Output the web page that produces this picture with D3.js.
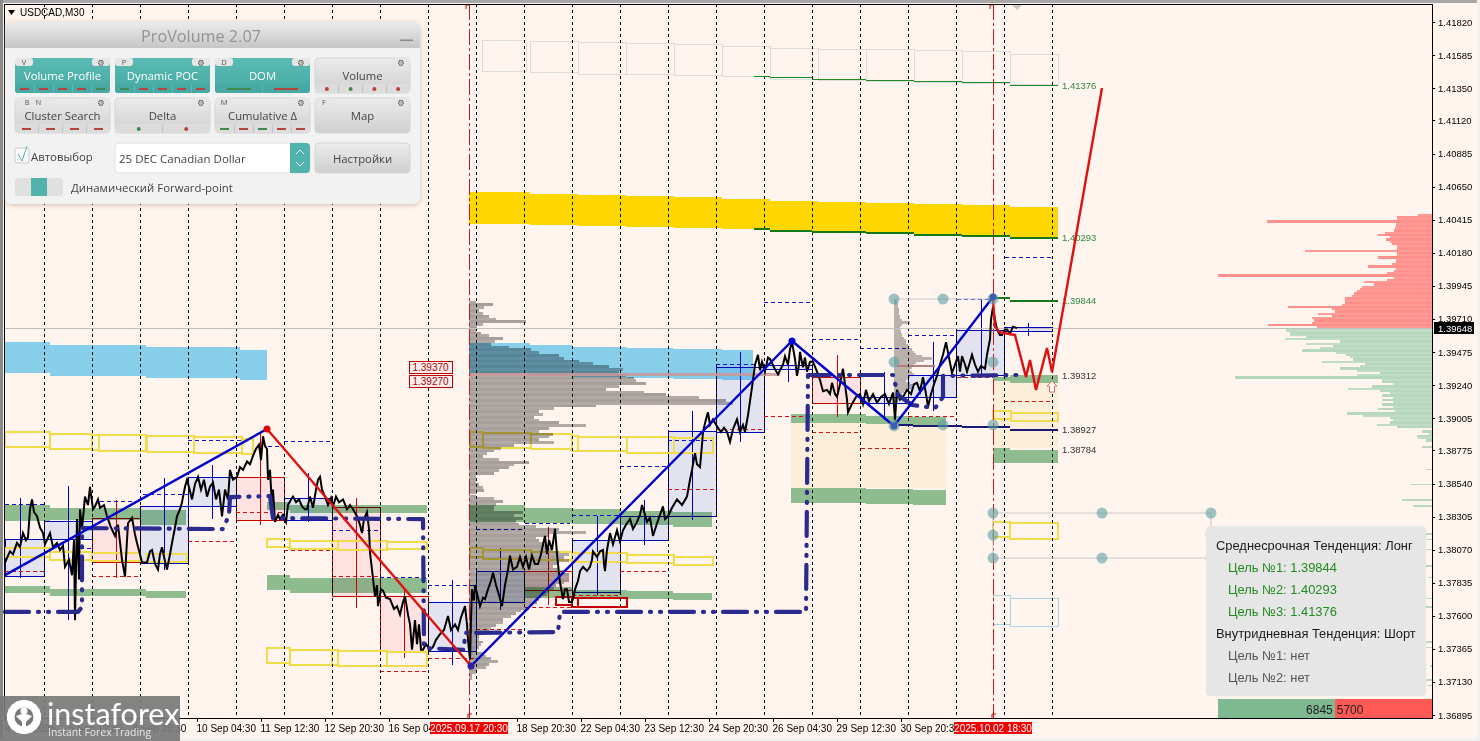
<!DOCTYPE html>
<html>
<head>
<meta charset="utf-8">
<script src="https://cdn.jsdelivr.net/npm/d3@7"></script>
<style>
  html, body { margin: 0; padding: 0; background: #fff5ee; overflow: hidden; }
  svg { display: block; }
  text { font-family: "Liberation Sans", sans-serif; }
  line, rect { shape-rendering: crispEdges; }
  .panel text { font-family: "Open Sans", sans-serif; }
  .panel rect, .wm rect, .trend rect { shape-rendering: auto; }
</style>
</head>
<body>
<svg id="chart" width="1480" height="741"></svg>
<script>
// chart values, [bar, price] or [bar0, bar1, priceTop, priceBottom]
const priceTicks = [1.41820,1.41585,1.41350,1.41120,1.40885,1.40650,1.40415,1.40180,1.39945,1.39710,1.39475,1.39240,1.39005,1.38775,1.38540,1.38305,1.38070,1.37835,1.37600,1.37365,1.37130,1.36895];
const dateBars = [0,64,128,192,256,320,384,512,576,640,704,768,832,896];
const dateLabels = ['4 Sep 2025','5 Sep 12:30','8 Sep 20:30','10 Sep 04:30','11 Sep 12:30','12 Sep 20:30','16 Sep 04:30','18 Sep 20:30','22 Sep 04:30','23 Sep 12:30','24 Sep 20:30','26 Sep 04:30','29 Sep 12:30','30 Sep 20:30'];
const markedDates = [[464,'2025.09.17 20:30'],[988,'2025.10.02 18:30']];
const gridBars = [39,87,135,183,231,279,327,375,423,471,519,567,615,663,711,759,807,855,903,951,999,1047];
const currentPrice = 1.39648;

const pricePath = [[0,1.3798],[3,1.3803],[5,1.3806],[8,1.3804],[12,1.3812],[15,1.3809],[18,1.3819],[21,1.3814],[23,1.3816],[25,1.3836],[27,1.3843],[29,1.3834],[32,1.3831],[35,1.3823],[38,1.3819],[40,1.3811],[45,1.3819],[48,1.3809],[52,1.3812],[55,1.3807],[58,1.3810],[60,1.3795],[64,1.3800],[67,1.3789],[69,1.3814],[70,1.3757],[72,1.3829],[74,1.3786],[75,1.3836],[77,1.3822],[80,1.3845],[83,1.3839],[85,1.3852],[88,1.3836],[90,1.3838],[93,1.3843],[95,1.3837],[99,1.3839],[102,1.3831],[106,1.3823],[110,1.3817],[113,1.3825],[117,1.3800],[120,1.3788],[122,1.3814],[123,1.3826],[127,1.3830],[130,1.3818],[132,1.3812],[135,1.3804],[137,1.3798],
[142,1.3798],[145,1.3806],[147,1.3807],[150,1.3797],[153,1.3793],[155,1.3804],[157,1.3809],[160,1.3799],[162,1.3793],[165,1.3804],[167,1.3812],[170,1.3823],[172,1.3831],[175,1.3836],[177,1.3841],[180,1.3852],[182,1.3857],[185,1.3849],[187,1.3843],[190,1.3854],[193,1.3859],[196,1.3850],[199,1.3857],[202,1.3845],[205,1.3852],[208,1.3855],[211,1.3843],[214,1.3850],[217,1.3831],[220,1.3850],[223,1.3843],[225,1.3864],[228,1.3857],[232,1.3859],[235,1.3866],[238,1.3864],[242,1.3870],[245,1.3868],[248,1.3874],[251,1.3879],[254,1.3882],[256,1.3871],[258,1.3888],[260,1.3881],[262,1.3879],[263,1.3857],[265,1.3864],[267,1.3838],[268,1.3850],[270,1.3827],[273,1.3832],[275,1.3829],[278,1.3832],[281,1.3827],[283,1.3839],[286,1.3843],[288,1.3845],[291,1.3841],[294,1.3843],[297,1.3838],[300,1.3836],[302,1.3836],[305,1.3845],[308,1.3837],[311,1.3850],[313,1.3857],[315,1.3859],[317,1.3850],[320,1.3845],[323,1.3839],[326,1.3844],[328,1.3838],[331,1.3845],[334,1.3841],[338,1.3843],[342,1.3836],[345,1.3839],[348,1.3836],[352,1.3831],[355,1.3825],[357,1.3819],[359,1.3829],[362,1.3834],[364,1.3822],[365,1.3805],[367,1.3793],[370,1.3774],[372,1.3782],[373,1.3767],[376,1.3779],[378,1.3778],[381,1.3773],[385,1.3772],[389,1.3765],[392,1.3767],[395,1.3761],[398,1.3770],[400,1.3774],[403,1.3761],[405,1.3754],[407,1.3736],[408,1.3743],[410,1.3757],[412,1.3740],[414,1.3754],[416,1.3736],[418,1.3736],[421,1.3740],[425,1.3736],[428,1.3738],[431,1.3743],[435,1.3747],[439,1.3750],[443,1.3760],[446,1.3750],[450,1.3754],[453,1.3750],[456,1.3759],[460,1.3767],[462,1.3754],[463,1.3743],[465,1.3729],[466,1.3757],[467,1.3779],[469,1.3771],[470,1.3782],[473,1.3773],[475,1.3767],[478,1.3773],[480,1.3772],[483,1.3779],[486,1.3785],[488,1.3791],[491,1.3782],[494,1.3775],[497,1.3767],[500,1.3782],[503,1.3793],[505,1.3803],[508,1.3793],[512,1.3795],[515,1.3802],[518,1.3795],[521,1.3802],[524,1.3793],[527,1.3803],[530,1.3797],[533,1.3797],[536,1.3804],[538,1.3811],[540,1.3817],[542,1.3804],[544,1.3814],[547,1.3807],[550,1.3822],[552,1.3804],[554,1.3790],[555,1.3784],[558,1.3772],[560,1.3779],[562,1.3779],[564,1.3770],[567,1.3770],[569,1.3775],[570,1.3779],[573,1.3785],[575,1.3792],[578,1.3795],[582,1.3792],[585,1.3795],[587,1.3800],[588,1.3806],[592,1.3802],[595,1.3806],[598,1.3807],[599,1.3797],[600,1.3792],[602,1.3807],[605,1.3819],[608,1.3811],[612,1.3821],[615,1.3813],[618,1.3821],[621,1.3825],[625,1.3829],[628,1.3822],[632,1.3827],[635,1.3832],[637,1.3839],[640,1.3832],[642,1.3827],[645,1.3830],[648,1.3817],[652,1.3826],[655,1.3832],[658,1.3838],[660,1.3829],[663,1.3831],[667,1.3837],[672,1.3843],[677,1.3839],[682,1.3845],[685,1.3857],[687,1.3864],[690,1.3876],[692,1.3868],[695,1.3866],[697,1.3882],[698,1.3891],[701,1.3900],[703,1.3905],[705,1.3896],[708,1.3900],[712,1.3895],[716,1.3891],[719,1.3894],[722,1.3891],[725,1.3884],[728,1.3893],[732,1.3900],[735,1.3891],[738,1.3896],[740,1.3891],[743,1.3903],[746,1.3918],[748,1.3928],[750,1.3939],[753,1.3946],[755,1.3935],[757,1.3941],[760,1.3934],[763,1.3944],[765,1.3943],[769,1.3937],[773,1.3932],[775,1.3935],[778,1.3939],[780,1.3945],[783,1.3939],[785,1.3950],[787,1.3955],[790,1.3943],[792,1.3931],[794,1.3939],[795,1.3948],[798,1.3937],[800,1.3944],[802,1.3934],[805,1.3941],[808,1.3941],[812,1.3934],[815,1.3928],[818,1.3920],[822,1.3921],[825,1.3918],[827,1.3926],[830,1.3918],[832,1.3916],[835,1.3925],[838,1.3936],[840,1.3925],[842,1.3914],[843,1.3905],[847,1.3911],[851,1.3916],[855,1.3918],[858,1.3911],[861,1.3921],[864,1.3913],[868,1.3918],[872,1.3912],[876,1.3916],[880,1.3918],[884,1.3911],[888,1.3919],[890,1.3900],[892,1.3921],[895,1.3914],[898,1.3916],[902,1.3921],[906,1.3918],[909,1.3925],[912,1.3926],[915,1.3920],[918,1.3930],[921,1.3918],[923,1.3909],[926,1.3918],[929,1.3925],[932,1.3931],[935,1.3939],[938,1.3946],[941,1.3955],[944,1.3944],[947,1.3933],[950,1.3939],[953,1.3945],[955,1.3934],[957,1.3945],[960,1.3939],[962,1.3934],[965,1.3941],[967,1.3946],[970,1.3939],[973,1.3934],[976,1.3938],[980,1.3936],[982,1.3946],[985,1.3957],[986,1.3971],[988,1.3980],[990,1.3971],[992,1.3964],[995,1.3960],[997,1.3960],[1000,1.3964],[1002,1.3964],[1005,1.3961],[1008,1.3966],[1012,1.3965]];

const upBoxes = [[0,39,1.38148,1.37884],[39,87,1.38276,1.38148],[135,183,1.38383,1.37977],[183,231,1.38589,1.38383],[279,327,1.38440,1.38283],[423,471,1.37693,1.37344],[471,519,1.37920,1.37693],[567,615,1.38134,1.37764],[615,663,1.38305,1.38134],[663,711,1.38917,1.38305],[711,759,1.39366,1.38910],[759,807,1.39387,1.39358],[855,903,1.39159,1.39110],[903,951,1.39309,1.39159],[951,999,1.39636,1.39309],[999,1047,1.39651,1.39629]];
const downBoxes = [[87,135,1.38297,1.37984],[231,279,1.38589,1.38283],[327,375,1.38369,1.37742],[375,423,1.37742,1.37344],[519,567,1.37920,1.37785],[807,855,1.39301,1.39110]];
const upWicks = [[15,1.38440,1.37870],[63,1.38525,1.37571],[159,1.38582,1.37927],[207,1.38675,1.38290],[303,1.38618,1.38269],[447,1.37856,1.37251],[495,1.38084,1.37643],[592,1.38312,1.37749],[639,1.38426,1.38106],[687,1.39060,1.38283],[735,1.39480,1.38839],[783,1.39387,1.39266],[879,1.39337,1.38995],[928,1.39551,1.39060],[976,1.39850,1.39309],[1023,1.39686,1.39593]];
const downWicks = [[111,1.38426,1.37870],[255,1.38903,1.38248],[351,1.38440,1.37657],[399,1.37785,1.37301],[543,1.38233,1.37679],[832,1.39458,1.39017]];
const highDashes = [[0,39,1.38397],[95,135,1.38418],[138,183,1.38468],[183,237,1.38846],[263,279,1.38810],[279,327,1.38839],[75,87,1.38084],[327,375,1.38212],[375,423,1.37877],[423,471,1.37814],[471,519,1.38219],[520,565,1.38255],[567,615,1.38312],[615,663,1.38661],[663,711,1.38846],[711,750,1.39394],[759,807,1.39829],[807,855,1.39572],[855,903,1.39508],[903,952,1.39600],[952,988,1.39850],[1000,1047,1.40149]];
const lowDashes = [[0,39,1.37920],[87,135,1.37884],[183,231,1.38127],[231,279,1.38340],[279,327,1.38063],[327,375,1.37884],[375,423,1.37208],[423,471,1.37294],[471,519,1.37507],[520,567,1.37657],[567,615,1.37749],[615,662,1.37920],[663,711,1.38504],[711,759,1.38931],[759,807,1.39017],[807,855,1.38903],[856,903,1.38789],[903,952,1.39017],[952,988,1.39301],[999,1045,1.39124]];

const greenZones = [[0,45,1.38390,1.38276],[45,135,1.38369,1.38283],[135,181,1.38355,1.38248],[0,45,1.37814,1.37764],[45,141,1.37792,1.37742],[141,181,1.37778,1.37728],[262,285,1.38412,1.38355],[285,422,1.38390,1.38333],[262,285,1.37891,1.37785],[285,422,1.37870,1.37764],[464,520,1.38390,1.38269],[520,567,1.38369,1.38262],[567,615,1.38362,1.38255],[615,668,1.38348,1.38248],[668,707,1.38340,1.38233],[520,567,1.37806,1.37728],[567,622,1.37785,1.37721],[622,668,1.37778,1.37721],[668,707,1.37764,1.37714],[786,861,1.39038,1.38974],[861,908,1.39024,1.38967],[908,941,1.39017,1.38960],[786,861,1.38511,1.38405],[861,908,1.38504,1.38397],[908,941,1.38497,1.38390],[988,1005,1.39301,1.39273],[1005,1053,1.39316,1.39259],[988,1005,1.38796,1.38689],[1005,1053,1.38782,1.38689]];
const creamZones = [[786,941,1.38974,1.38511],[988,1053,1.39273,1.38796]];
const skyZones = [[0,45,1.39551,1.39330],[45,141,1.39530,1.39309],[141,235,1.39515,1.39294],[235,262,1.39494,1.39280],[464,525,1.39544,1.39330],[525,567,1.39530,1.39316],[567,622,1.39515,1.39301],[622,668,1.39508,1.39294],[668,717,1.39501,1.39287],[717,748,1.39494,1.39280]];
const goldZones = [[464,525,1.40619,1.40391],[525,573,1.40605,1.40384],[573,621,1.40597,1.40377],[621,669,1.40590,1.40370],[669,717,1.40583,1.40362],[717,765,1.40569,1.40355],[765,813,1.40555,1.40341],[813,861,1.40548,1.40334],[861,909,1.40540,1.40327],[909,958,1.40533,1.40313],[958,1005,1.40526,1.40305],[1005,1053,1.40512,1.40298]];
const grayOutlines = [[477,521,1.41701,1.41480],[525,573,1.41694,1.41473],[573,621,1.41680,1.41459],[621,669,1.41673,1.41452],[669,717,1.41666,1.41445],[717,765,1.41658,1.41438],[765,807,1.41644,1.41423],[807,813,1.41644,1.41423],[813,861,1.41637,1.41416],[861,909,1.41630,1.41409],[909,957,1.41623,1.41402],[957,1005,1.41616,1.41395],[1005,1053,1.41601,1.41381]];
const yellowOutlines = [[0,45,1.38910,1.38803],[45,87,1.38896,1.38789],[87,94,1.38889,1.38782],[94,141,1.38889,1.38775],[142,189,1.38882,1.38768],[189,237,1.38875,1.38761],[237,248,1.38860,1.38753],[0,45,1.38084,1.38020],[45,87,1.38056,1.37999],[87,135,1.38049,1.37992],[142,182,1.38041,1.37984],[262,285,1.38148,1.38091],[285,327,1.38134,1.38077],[327,333,1.38134,1.38077],[333,382,1.38134,1.38070],[382,422,1.38127,1.38077],[262,285,1.37372,1.37265],[285,327,1.37358,1.37251],[327,333,1.37358,1.37251],[333,382,1.37351,1.37244],[382,422,1.37344,1.37244],[465,478,1.38910,1.38803],[478,526,1.38903,1.38796],[526,567,1.38896,1.38789],[567,573,1.38882,1.38775],[573,622,1.38875,1.38775],[622,669,1.38875,1.38761],[669,708,1.38867,1.38761],[465,478,1.38084,1.38020],[478,526,1.38070,1.38006],[526,567,1.38056,1.37999],[567,573,1.38049,1.37984],[573,622,1.38049,1.37984],[622,669,1.38034,1.37977],[669,708,1.38020,1.37963],[988,1006,1.39060,1.39003],[1006,1053,1.39045,1.38988],[988,1005,1.38269,1.38162],[1005,1053,1.38262,1.38148]];
const blueOutlines = [[988,1005,1.37749,1.37536],[1005,1053,1.37728,1.37522]];
const redOutlines = [[551,567,1.37735,1.37679],[567,573,1.37728,1.37664],[573,622,1.37728,1.37664]];

const greenLevels = [[749,765,1.41438],[765,807,1.41431],[807,861,1.41423],[861,909,1.41416],[909,957,1.41409],[957,1005,1.41402],[1005,1053,1.41376]];
const greenLevelsThick = [[749,765,1.40355],[765,807,1.40341],[807,861,1.40334],[861,909,1.40327],[909,957,1.40313],[957,1005,1.40305],[1005,1053,1.40293],[988,1005,1.39865],[1005,1053,1.39844]];
const navyLevels = [[893,908,1.38959],[908,957,1.38952],[957,1005,1.38945],[1005,1053,1.38927]];
const levelTexts = ['1.41376','1.40293','1.39844','1.39312','1.38927','1.38784'];

const pocPath = [[0,1.37629],[73,1.37629],[77,1.37664],[77,1.38226],[218,1.38219],[224,1.38319],[225,1.38447],[265,1.38454],[268,1.38297],[418,1.38290],[419,1.37372],[459,1.37358],[460,1.37479],[553,1.37486],[555,1.37629],[801,1.37629],[803,1.39316],[888,1.39316],[893,1.39173],[907,1.39102],[930,1.39081],[938,1.39159],[938,1.39309],[1013,1.39316]];
const blueSwings = [[[0,1.37891],[262,1.38931]],[[466,1.37244],[787,1.39558],[889,1.38953],[988,1.39871]]];
const redSwing = [[262,1.38931],[466,1.37244]];
const forecastPath = [[988,1.39850],[990,1.39660],[995,1.39620],[1010,1.39600],[1021,1.39301],[1025,1.39423],[1031,1.39209],[1042,1.39508],[1047,1.39337],[1097,1.41359]];
const swingDots = [[262,1.38931,'#e00000'],[466,1.37244,'#3020a0'],[787,1.39558,'#0000d0'],[889,1.38953,'#0000d0'],[988,1.39871,'#0000d0']];
const anchorDots = [[889,1.39857],[938,1.39857],[988,1.39857],[889,1.39408],[988,1.39408],[889,1.38953],[938,1.38960],[988,1.38960],[988,1.38333],[1097,1.38333],[1206,1.38333],[988,1.38012],[1097,1.38012],[1206,1.38012],[988,1.38176],[1206,1.38176]];
const anchorLines = [[[889,1.39857],[988,1.39857]],[[988,1.38333],[1206,1.38333],[1206,1.38012],[988,1.38012],[988,1.38333]]];
const boxedLevels = [1.39370, 1.39270];
const upArrowAt = [1047, 1.39230];

// big profile rows go down from profileTop, one row per profileStep
const profileTop = 1.39845, profileStep = 0.0002;
const profileVolumes = [7,24,15,10,14,20,27,57,14,8,7,12,20,34,26,22,40,62,70,90,95,110,124,140,154,150,157,165,167,177,150,137,175,197,230,257,264,127,85,70,74,65,70,90,117,80,70,84,80,70,85,45,32,25,18,14,30,60,45,40,30,25,7,8,7,10,14,15,8,7,25,34,27,25,25,54,45,54,47,50,67,90,117,80,67,70,77,80,84,90,100,95,100,90,84,90,95,100,100,100,95,87,85,80,78,72,70,68,62,60,52,47,42,34,34,27,22,20,14,10,10,14,12,10,8,14,17,22,29,20,17,8,7,3,3];
const dayProfileTop = 1.39857, dayProfileStep = 0.00016;
const dayProfileVolumes = [3,3,4,4,5,5,5,6,6,8,16,8,6,6,7,8,8,10,12,12,14,15,18,20,22,28,38,30,22,20,18,16,18,20,16,14,12,16,20,18,14,10,8,6,5,4,3,3,3,2,2,2,2,2,2,2,2,2];
const sellVolumes = [115,164,120,118,120,100,114,97,100,144,90,87,87,87,80,78,75,72,70,58,68,45,38,214,45,38,36,64,40,36,36,54,35,35,127,35,35,40,42,46,42,54,47,38,37,36,36,165,35,35,14];
const buyVolumes = [146,142,142,126,147,92,126,99,112,130,96,86,82,79,110,67,72,92,75,52,75,197,50,50,39,60,84,52,42,50,39,50,39,50,39,54,37,85,69,42,39,42,55,35,0,10,3,15,14,6];
const bookStep = 0.00016;
const sparsePrices = [1.38810,1.38650,1.38540,1.38430,1.38390,1.38190,1.38150,1.38080,1.37960,1.37880,1.37730,1.37670,1.37420,1.37380,1.37250,1.37150,1.37110];
const sparseVolumes = [10,6,22,30,19,12,9,7,19,4,7,9,214,7,2,7,5];
const tradeSplit = [6845, 5700];

const trendLines = [
  ['Среднесрочная Тенденция: Лонг', 0, '#1a1a1a'],
  ['Цель №1: 1.39844', 1, '#228b22'],
  ['Цель №2: 1.40293', 1, '#228b22'],
  ['Цель №3: 1.41376', 1, '#228b22'],
  ['Внутридневная Тенденция: Шорт', 0, '#1a1a1a'],
  ['Цель №1: нет', 1, '#555'],
  ['Цель №2: нет', 1, '#555']
];
const panelButtons = [
  ['Volume Profile','V',1,'dash','rrrrg'],['Dynamic POC','P',1,'dash','grrrr'],['DOM','D',1,'dash','gr'],['Volume','',0,'dot','rgrr'],
  ['Cluster Search','B N',0,'dash','rrrr'],['Delta','',0,'dot','gr'],['Cumulative Δ','M',0,'dash','grgrr'],['Map','F',0,'dash','']
];

const svg = d3.select('#chart');
const x = d3.scaleLinear().domain([0, 1425]).range([5, 1430]);
const y = d3.scaleLinear().domain([1.41986, 1.36895]).range([0, 715]);
const yAxisScale = d3.scaleLinear().domain([1.41820, 1.36895]).range([22, 715]);
const vol = d3.scaleLinear().domain([0, 100]).range([0, 100]);
const plotRight = 1432, plotBottom = 718, plotTop = 4, plotLeft = 4;

// window edges
svg.append('rect').attr('width', 1480).attr('height', 741).attr('fill', '#fff5ee');
svg.append('rect').attr('width', 1480).attr('height', 3).attr('fill', '#a8a8a8');
svg.append('rect').attr('width', 3).attr('height', 741).attr('fill', '#8a8a8a');
svg.append('rect').attr('x', 1477).attr('width', 3).attr('height', 741).attr('fill', '#f0f0f0');
svg.append('rect').attr('y', 738).attr('width', 1480).attr('height', 3).attr('fill', '#f0f0f0');

const zones = (data, attrs, parent) => {
  const s = (parent || svg).append('g').selectAll('rect').data(data).join('rect')
    .attr('x', d => x(d[0]))
    .attr('width', d => x(d[1]) - x(d[0]))
    .attr('y', d => y(d[2]))
    .attr('height', d => y(d[3]) - y(d[2]));
  Object.keys(attrs).forEach(k => s.style(k, attrs[k]));
  return s;
};
const hLines = (data, attrs) => {
  const s = svg.append('g').selectAll('line').data(data).join('line')
    .attr('x1', d => x(d[0])).attr('x2', d => x(d[1]))
    .attr('y1', d => y(d[2])).attr('y2', d => y(d[2]));
  Object.keys(attrs).forEach(k => s.style(k, attrs[k]));
};
const vLines = (data, color) => {
  svg.append('g').selectAll('line').data(data).join('line')
    .attr('x1', d => x(d[0])).attr('x2', d => x(d[0]))
    .attr('y1', d => y(d[1])).attr('y2', d => y(d[2]))
    .style('stroke', color).style('stroke-width', 1);
};
const line = d3.line().x(d => x(d[0])).y(d => y(d[1]));

zones(creamZones, { fill: '#fdeeda' });
zones(skyZones, { fill: '#87ceeb' });
zones(goldZones, { fill: '#ffd700' });
zones(greenZones, { fill: '#8fbc8f' });

vLines(upWicks, '#0000c8');
vLines(downWicks, '#d00000');
// multiply darkens against the page colour, so these fills are a little lighter than they look
zones(upBoxes, { fill: '#e2edff', stroke: '#0000c8', 'stroke-width': 1, 'mix-blend-mode': 'multiply' });
zones(downBoxes, { fill: '#fdecf2', stroke: '#d00000', 'stroke-width': 1, 'mix-blend-mode': 'multiply' });
hLines(highDashes, { stroke: '#1010d8', 'stroke-width': 1, 'stroke-dasharray': '4,3' });
hLines(lowDashes, { stroke: '#d81010', 'stroke-width': 1, 'stroke-dasharray': '4,3' });

zones(grayOutlines, { fill: 'none', stroke: '#dcdcdc', 'stroke-width': 1 });
zones(yellowOutlines, { fill: 'none', stroke: '#f3dc4a', 'stroke-width': 1.5 });
zones(blueOutlines, { fill: 'none', stroke: '#a8d4e6', 'stroke-width': 1 });
zones(redOutlines, { fill: 'none', stroke: '#c80000', 'stroke-width': 1.3 });

// volume profiles
const profileG = svg.append('g').style('mix-blend-mode', 'multiply');
profileG.selectAll('rect').data(profileVolumes).join('rect')
  .attr('x', x(464))
  .attr('y', (d, i) => y(profileTop - i * profileStep))
  .attr('width', d => vol(d))
  .attr('height', 2.8)
  .attr('fill', (d, i) => i % 2 ? '#a6a6a6' : '#b0b0b0');
const dayProfileG = svg.append('g').style('mix-blend-mode', 'multiply');
dayProfileG.selectAll('rect').data(dayProfileVolumes).join('rect')
  .attr('x', x(889))
  .attr('y', (d, i) => y(dayProfileTop - i * dayProfileStep))
  .attr('width', d => vol(d))
  .attr('height', 2.25)
  .attr('fill', '#b8b8b8');

hLines([[464, 775, 1.39316]], { stroke: '#c99', 'stroke-width': 3, opacity: 0.85 });
hLines([[892, 930, 1.39380]], { stroke: '#b08080', 'stroke-width': 2 });

// order book on the right edge
svg.append('g').selectAll('rect').data(sellVolumes).join('rect')
  .attr('x', d => plotRight - vol(d)).attr('width', d => vol(d))
  .attr('y', (d, i) => y(currentPrice + (i + 1) * bookStep)).attr('height', 2.25)
  .attr('fill', (d, i) => i % 2 ? '#ff908c' : '#ff9a96');
svg.append('g').selectAll('rect').data(buyVolumes).join('rect')
  .attr('x', d => plotRight - vol(d)).attr('width', d => vol(d))
  .attr('y', (d, i) => y(currentPrice - (i + 0.4) * bookStep)).attr('height', 2.25)
  .attr('fill', (d, i) => i % 2 ? '#b7d7bd' : '#bfdcc4');
svg.append('g').selectAll('rect').data(sparseVolumes).join('rect')
  .attr('x', d => plotRight - vol(d)).attr('width', d => vol(d))
  .attr('y', (d, i) => y(sparsePrices[i])).attr('height', 1.5)
  .attr('fill', '#b9d8bf');

// grid
svg.append('g').selectAll('line').data(gridBars).join('line')
  .attr('x1', d => x(d)).attr('x2', d => x(d))
  .attr('y1', plotTop).attr('y2', plotBottom)
  .style('stroke', '#000').style('stroke-width', 1).style('stroke-dasharray', '3,3');
svg.append('g').selectAll('line').data(markedDates).join('line')
  .attr('x1', d => x(d[0])).attr('x2', d => x(d[0]))
  .attr('y1', plotTop).attr('y2', plotBottom)
  .style('stroke', '#d01818').style('stroke-width', 1).style('stroke-dasharray', '16,3,3,3');
svg.append('g').selectAll('path').data(markedDates).join('path')
  .attr('d', d => `M${x(d[0]) - 3},9V5H${x(d[0]) + 1}`)
  .style('fill', 'none').style('stroke', '#c81414').style('stroke-width', 1);
svg.append('g').selectAll('path').data(markedDates).join('path')
  .attr('d', d => `M${x(d[0]) - 1},${plotBottom}V714H${x(d[0]) + 3}`)
  .style('fill', 'none').style('stroke', '#c81414').style('stroke-width', 1);

// current price line
svg.append('line').attr('x1', plotLeft).attr('x2', plotRight)
  .attr('y1', y(currentPrice)).attr('y2', y(currentPrice))
  .style('stroke', '#c0c0c0').style('stroke-width', 1);

// levels and their labels
hLines(greenLevels, { stroke: '#1f8a1f', 'stroke-width': 1 });
hLines(greenLevelsThick, { stroke: '#147814', 'stroke-width': 2 });
hLines(navyLevels, { stroke: '#191970', 'stroke-width': 2 });
svg.append('g').selectAll('text').data(levelTexts).join('text')
  .attr('x', x(1057)).attr('y', d => y(+d) + 3)
  .attr('font-size', 9.5)
  .attr('fill', (d, i) => i < 3 ? '#2e8b3e' : '#333')
  .text(d => d);

const boxedG = svg.append('g').selectAll('g').data(boxedLevels).join('g')
  .attr('transform', d => `translate(409,${y(d) - 6})`);
boxedG.append('rect').attr('width', 43).attr('height', 12)
  .attr('fill', '#fdeeee').attr('stroke', '#c00000').attr('stroke-width', 1);
boxedG.append('text').attr('x', 21.5).attr('y', 9.5).attr('text-anchor', 'middle')
  .attr('font-size', 10).attr('fill', '#b00000').text(d => d.toFixed(5));

// anchors
svg.append('g').selectAll('path').data(anchorLines).join('path')
  .attr('d', line).style('fill', 'none').style('stroke', '#c8c8c8').style('stroke-width', 1);

// price
svg.append('path').datum(pricePath).attr('d', line)
  .style('fill', 'none').style('stroke', '#000').style('stroke-width', 2);

// dynamic POC
svg.append('path').datum(pocPath).attr('d', line)
  .style('fill', 'none').style('stroke', '#2b2b8f').style('stroke-width', 4.2)
  .style('stroke-linecap', 'round').style('stroke-linejoin', 'round')
  .style('stroke-dasharray', '24,9,1,9,1,9');

// swings
svg.append('g').selectAll('path').data(blueSwings).join('path')
  .attr('d', line).style('fill', 'none').style('stroke', '#0000cd').style('stroke-width', 2.4);
svg.append('path').datum(redSwing).attr('d', line)
  .style('fill', 'none').style('stroke', '#dc1414').style('stroke-width', 2.4);
svg.append('path').datum(forecastPath).attr('d', line)
  .style('fill', 'none').style('stroke', '#e01010').style('stroke-width', 2.4);
svg.append('g').selectAll('circle').data(swingDots).join('circle')
  .attr('cx', d => x(d[0])).attr('cy', d => y(d[1])).attr('r', 3.5)
  .attr('fill', d => d[2]);
svg.append('g').selectAll('circle').data(anchorDots).join('circle')
  .attr('cx', d => x(d[0])).attr('cy', d => y(d[1])).attr('r', 5.5)
  .attr('fill', '#5f9ea0').attr('opacity', 0.6);

svg.append('path')
  .attr('transform', `translate(${x(upArrowAt[0])},${y(upArrowAt[1])})`)
  .attr('d', 'M0,-6L5,-1L2.5,-1L2.5,5L-2.5,5L-2.5,-1L-5,-1Z')
  .attr('fill', '#fff5ee').attr('stroke', '#e07070').attr('stroke-width', 1);

// small triangle at the top
svg.append('path').attr('d', 'M1011,4L1023,4L1017,10Z').attr('fill', '#c8c8c8');

// trend box
const trendG = svg.append('g').attr('class', 'trend');
trendG.append('rect').attr('x', 1206).attr('y', 526).attr('width', 220).attr('height', 170)
  .attr('rx', 4).attr('fill', '#e6e6e6');
trendG.selectAll('text').data(trendLines).join('text')
  .attr('x', d => d[1] ? 1228 : 1216)
  .attr('y', (d, i) => 549.5 + i * 22)
  .attr('font-size', 12.9).attr('fill', d => d[2])
  .text(d => d[0]);

// buy / sell split
const splitX = d3.scaleLinear().domain([0, tradeSplit[0] + tradeSplit[1]]).range([1218, 1432]);
svg.append('rect').attr('x', splitX(0)).attr('y', 699)
  .attr('width', splitX(tradeSplit[0]) - splitX(0)).attr('height', 19).attr('fill', '#7fb98f');
svg.append('rect').attr('x', splitX(tradeSplit[0])).attr('y', 699)
  .attr('width', splitX(tradeSplit[0] + tradeSplit[1]) - splitX(tradeSplit[0])).attr('height', 19).attr('fill', '#ff5a55');
svg.append('text').attr('x', splitX(tradeSplit[0]) - 2).attr('y', 714).attr('text-anchor', 'end')
  .attr('font-size', 12).attr('fill', '#222').text(tradeSplit[0]);
svg.append('text').attr('x', splitX(tradeSplit[0]) + 2).attr('y', 714)
  .attr('font-size', 12).attr('fill', '#222').text(tradeSplit[1]);

// axes
svg.append('rect').attr('x', plotLeft).attr('y', plotTop)
  .attr('width', plotRight - plotLeft).attr('height', plotBottom - plotTop)
  .attr('fill', 'none').attr('stroke', '#000').attr('stroke-width', 1);

const yAxisG = svg.append('g').attr('transform', `translate(${plotRight},0)`)
  .call(d3.axisRight(yAxisScale).tickValues(priceTicks).tickFormat(d3.format('.5f')).tickSize(3).tickPadding(3));
yAxisG.select('.domain').remove();
yAxisG.selectAll('text').attr('font-size', 9.5).attr('fill', '#000').style('font-family', '"Liberation Sans", sans-serif');

const xAxisG = svg.append('g').attr('transform', `translate(0,${plotBottom})`)
  .call(d3.axisBottom(x).tickValues(dateBars).tickFormat((d, i) => dateLabels[i]).tickSize(4).tickPadding(3));
xAxisG.select('.domain').remove();
xAxisG.selectAll('text').attr('font-size', 10).attr('fill', '#000')
  .attr('text-anchor', 'start').attr('dx', -1)
  .style('font-family', '"Liberation Sans", sans-serif');

const markedG = svg.append('g').selectAll('g').data(markedDates).join('g')
  .attr('transform', d => `translate(${x(d[0])},722)`);
markedG.append('rect').attr('x', -39).attr('width', 78).attr('height', 12).attr('fill', '#f00000');
markedG.append('text').attr('y', 10).attr('text-anchor', 'middle').attr('font-size', 10)
  .attr('fill', '#fff').text(d => d[1]);

// current price tag
svg.append('rect').attr('x', 1434).attr('y', y(currentPrice) - 6).attr('width', 40).attr('height', 12).attr('fill', '#000');
svg.append('text').attr('x', 1438).attr('y', y(currentPrice) + 3.5).attr('font-size', 9.5).attr('fill', '#fff')
  .text(currentPrice.toFixed(5));

// symbol
svg.append('path').attr('d', 'M8,10L15,10L11.5,15Z').attr('fill', '#000');
svg.append('text').attr('x', 20).attr('y', 16).attr('font-size', 10).attr('fill', '#000').text('USDCAD,M30');

// ProVolume panel
const defs = svg.append('defs');
const grad = (id, a, b) => {
  const g = defs.append('linearGradient').attr('id', id).attr('x1', 0).attr('y1', 0).attr('x2', 0).attr('y2', 1);
  g.append('stop').attr('offset', 0).attr('stop-color', a);
  g.append('stop').attr('offset', 1).attr('stop-color', b);
};
grad('head', '#ececec', '#c6c6c6');
grad('btn', '#ececec', '#cfcfcf');
grad('teal', '#5bbab4', '#45a9a3');
const shadow = defs.append('filter').attr('id', 'shadow').attr('x', '-5%').attr('y', '-5%').attr('width', '110%').attr('height', '110%');
shadow.append('feDropShadow').attr('dx', 0).attr('dy', 1).attr('stdDeviation', 2.5).attr('flood-color', '#b09a88').attr('flood-opacity', 0.6);

const panel = svg.append('g').attr('class', 'panel');
panel.append('rect').attr('x', 5).attr('y', 22).attr('width', 415).attr('height', 182).attr('rx', 6)
  .attr('fill', '#f2f2f2').attr('filter', 'url(#shadow)');
panel.append('path').attr('d', 'M5,48V28a6,6 0 0 1 6,-6H414a6,6 0 0 1 6,6V48Z').attr('fill', 'url(#head)');
panel.append('text').attr('x', 201).attr('y', 42).attr('text-anchor', 'middle')
  .attr('font-size', 16.2).attr('fill', '#939393').text('ProVolume 2.07');
panel.append('rect').attr('x', 400).attr('y', 39.5).attr('width', 13).attr('height', 1.6).attr('fill', '#8a8a8a');

const btnX = [15, 115, 215, 315], btnW = 95;
const btn = panel.selectAll('g.btn').data(panelButtons).join('g').attr('class', 'btn')
  .attr('transform', (d, i) => `translate(${btnX[i % 4]},${i < 4 ? 58 : 98})`);
btn.append('rect').attr('width', btnW).attr('height', 35).attr('rx', 4)
  .attr('fill', d => d[2] ? 'url(#teal)' : 'url(#btn)').attr('stroke', d => d[2] ? 'none' : '#d4d4d4');
btn.append('rect').attr('y', 26).attr('width', btnW).attr('height', 9).attr('rx', 3)
  .attr('fill', d => d[2] ? '#4aa8a2' : '#dcdcdc').attr('opacity', d => d[4] ? 1 : 0);
btn.append('text').attr('x', btnW / 2).attr('y', 22).attr('text-anchor', 'middle')
  .attr('font-size', 11.3).attr('fill', d => d[2] ? '#fff' : '#444').text(d => d[0]);
btn.filter(d => d[1]).append('rect').attr('width', d => d[1].length > 1 ? 36 : 18).attr('height', 8).attr('rx', 3)
  .attr('fill', '#e6e6e6');
btn.filter(d => d[1]).append('text').attr('x', d => d[1].length > 1 ? 18 : 9).attr('y', 7)
  .attr('text-anchor', 'middle').attr('font-size', 7.5).attr('fill', '#555')
  .attr('xml:space', 'preserve').text(d => d[1].replace(' ', '   '));
btn.append('rect').attr('x', btnW - 18).attr('width', 18).attr('height', 8).attr('rx', 3).attr('fill', '#e6e6e6');
btn.append('text').attr('x', btnW - 9).attr('y', 7.5).attr('text-anchor', 'middle')
  .attr('font-size', 8.5).attr('fill', '#555').style('font-family', '"DejaVu Sans"').text('⚙');
btn.each(function (d) {
  const marks = d[4].split('');
  const g = d3.select(this);
  const segW = btnW / (marks.length || 1);
  marks.forEach((m, i) => {
    const color = m === 'r' ? '#b5433e' : '#3f8a50';
    const cx = segW * (i + 0.5);
    if (i > 0) {
      g.append('line').attr('x1', segW * i).attr('x2', segW * i).attr('y1', 27).attr('y2', 35)
        .attr('stroke', d[2] ? '#5fbab4' : '#c2c2c2');
    }
    if (d[3] === 'dot') {
      g.append('circle').attr('cx', cx).attr('cy', 31).attr('r', 2).attr('fill', color);
    } else {
      const w = marks.length === 2 ? 24 : 9;
      g.append('line').attr('x1', cx - w / 2).attr('x2', cx + w / 2).attr('y1', 31).attr('y2', 31)
        .attr('stroke', color).attr('stroke-width', 1.2);
    }
  });
});

panel.append('rect').attr('x', 15).attr('y', 148).attr('width', 14).attr('height', 15).attr('rx', 2)
  .attr('fill', '#f8f8f8').attr('stroke', '#ccc');
panel.append('path').attr('d', 'M18,154L22,161L27,146').attr('fill', 'none').attr('stroke', '#57b5af').attr('stroke-width', 1);
panel.append('text').attr('x', 31).attr('y', 161).attr('font-size', 11.4).attr('fill', '#444').text('Автовыбор');

panel.append('rect').attr('x', 115).attr('y', 143).attr('width', 195).attr('height', 30).attr('rx', 4).attr('fill', '#fff').attr('stroke', '#e0e0e0');
panel.append('path').attr('d', 'M290,143H306a4,4 0 0 1 4,4V169a4,4 0 0 1 -4,4H290Z').attr('fill', '#52b2ac');
panel.append('path').attr('d', 'M296,154L300,150L304,154M296,162L300,166L304,162').attr('fill', 'none').attr('stroke', '#e8f5f4').attr('stroke-width', 1);
panel.append('text').attr('x', 119).attr('y', 163).attr('font-size', 11.5).attr('fill', '#444').text('25 DEC Canadian Dollar');
panel.append('rect').attr('x', 315).attr('y', 143).attr('width', 95).attr('height', 30).attr('rx', 4).attr('fill', 'url(#btn)').attr('stroke', '#d4d4d4');
panel.append('text').attr('x', 362.5).attr('y', 163).attr('text-anchor', 'middle').attr('font-size', 11.3).attr('fill', '#444').text('Настройки');

panel.append('rect').attr('x', 15).attr('y', 178).attr('width', 48).attr('height', 18).attr('rx', 3).attr('fill', '#e0e0e0');
panel.append('rect').attr('x', 31).attr('y', 178).attr('width', 16).attr('height', 18).attr('fill', '#52b2ac');
panel.append('text').attr('x', 71).attr('y', 192).attr('font-size', 11.4).attr('fill', '#444').text('Динамический Forward-point');

// watermark
const mark = svg.append('g').attr('class', 'wm');
mark.append('rect').attr('y', 696).attr('width', 180).attr('height', 45).attr('fill', '#787878').attr('opacity', 0.92);
d3.range(10).forEach(i => {
  mark.append('rect').attr('x', 21).attr('y', 700).attr('width', 6).attr('height', 34).attr('fill', '#fff')
    .attr('transform', `rotate(${i * 18},24,717)`);
});
mark.append('circle').attr('cx', 24).attr('cy', 717).attr('r', 14).attr('fill', '#fff');
mark.append('circle').attr('cx', 24).attr('cy', 717).attr('r', 9.5).attr('fill', '#787878');
mark.append('circle').attr('cx', 24).attr('cy', 711).attr('r', 3.5).attr('fill', '#fff');
mark.append('path').attr('d', 'M16,716Q24,712 32,716L26,722V731H22V722Z').attr('fill', '#fff');
mark.append('text').attr('x', 47).attr('y', 725).attr('font-size', 30.5).attr('fill', '#fff')
  .style('font-family', 'Lato, sans-serif').style('font-weight', 400).text('instaforex');
mark.append('text').attr('x', 48).attr('y', 736).attr('font-size', 10.4).attr('fill', '#e8e8e8')
  .style('font-family', '"Open Sans", sans-serif').text('Instant Forex Trading');
</script>
</body>
</html>
